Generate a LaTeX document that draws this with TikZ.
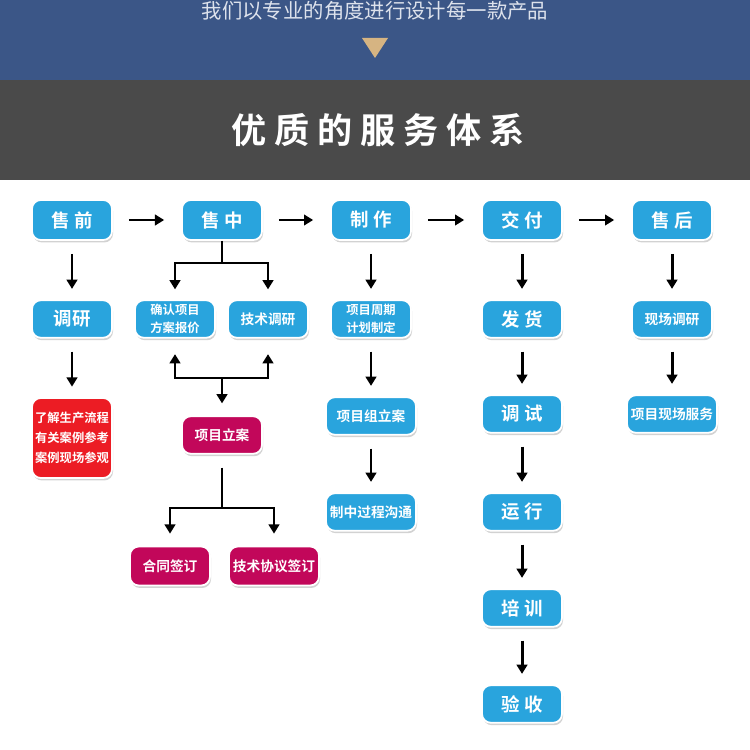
\documentclass[tikz,border=0pt]{standalone}
\usepackage{fontspec}
\newfontfamily\cjk{Noto Sans CJK SC}[BoldFont={Noto Sans CJK SC Bold}]
\usetikzlibrary{arrows.meta,shadows}
\definecolor{bandblue}{HTML}{3B5687}
\definecolor{bandgray}{HTML}{4A4A4A}
\definecolor{toptext}{HTML}{DDE2EC}
\definecolor{tanmark}{HTML}{D6B482}
\definecolor{boxblue}{HTML}{29A4DD}
\definecolor{boxred}{HTML}{EC1C24}
\definecolor{boxpink}{HTML}{C2075A}
\tikzset{
  box/.style={draw=white, line width=1pt, rounded corners=5pt, text=white,
    inner sep=0pt, minimum width=1.6cm, minimum height=0.75cm, align=center,
    drop shadow={opacity=0.35, shadow xshift=0.6pt, shadow yshift=-1.4pt}},
  bl/.style={box, fill=boxblue},
  pk/.style={box, fill=boxpink},
  rd/.style={box, fill=boxred},
  big/.style={font=\cjk\bfseries\fontsize{10.5}{12}\selectfont},
  mid/.style={font=\cjk\bfseries\fontsize{7.8}{10}\selectfont},
  sml/.style={font=\cjk\bfseries\fontsize{7}{10}\selectfont},
  wide/.style={minimum width=1.8cm},
  link/.style={line width=1.7pt},
  arr/.style={link, -{Triangle[width=6pt,length=5.2pt]}},
  hop/.style={shorten <=0.32cm, shorten >=0.34cm},
  dn/.style={shorten <=0.26cm, shorten >=0.21cm}
}
\begin{document}
\begin{tikzpicture}[x=0.02cm, y=-0.02cm]
  \useasboundingbox (0,0) rectangle (750,750);
  \fill[white] (0,0) rectangle (750,750);
  \fill[bandblue] (0,0) rectangle (750,80);
  \fill[bandgray] (0,80) rectangle (750,180);
  \fill[tanmark] (362,38) -- (388,38) -- (375,58) -- cycle;
  \node[text=toptext, font=\cjk\fontsize{11.6}{12}\selectfont] (slogan) at (375,11)
    {我们以专业的角度进行设计每一款产品};
  \node[text=white, font=\cjk\bfseries\fontsize{20}{22}\selectfont\addfontfeature{LetterSpace=22}]
    (title) at (378,130) {优质的服务体系};
  % main row
  \path
    (72,220) node[bl, big, minimum height=0.8cm] (sq) {售 前}
    (222,220) node[bl, big, minimum height=0.8cm] (sz) {售 中}
    (371,220) node[bl, big, minimum height=0.8cm] (zz) {制 作}
    (522,220) node[bl, big, minimum height=0.8cm] (jf) {交 付}
    (672,220) node[bl, big, minimum height=0.8cm] (sh) {售 后};
  % second row
  \path
    (72,319) node[bl, big] (dy) {调研}
    (175,319) node[bl, sml] (qr) {确认项目\\方案报价}
    (268,319) node[bl, mid] (js) {技术调研}
    (371,319) node[bl, sml] (zq) {项目周期\\计划制定}
    (522,319) node[bl, big] (fh) {发 货}
    (672,319) node[bl, mid] (xd) {现场调研};
  % lower rows
  \path
    (72,438) node[rd, font=\cjk\bfseries\fontsize{7}{11.3}\selectfont, minimum height=1.6cm] (lj)
      {了解生产流程\\有关案例参考\\案例现场参观}
    (222,435) node[pk, mid] (xl) {项目立案}
    (170,566) node[pk, mid, minimum height=0.78cm] (ht) {合同签订}
    (274,566) node[pk, mid, wide, minimum height=0.78cm] (xy) {技术协议签订}
    (371,416) node[bl, mid, wide] (xz) {项目组立案}
    (371,512) node[bl, mid, wide] (gt) {制中过程沟通}
    (522,414) node[bl, big] (ts) {调 试}
    (522,512) node[bl, big] (yx) {运 行}
    (522,608) node[bl, big] (px) {培 训}
    (522,704) node[bl, big] (ys) {验 收}
    (672,414) node[bl, mid, wide] (fw) {项目现场服务};
  \coordinate (j1) at (222,263);
  \coordinate (j2) at (222,378);
  \coordinate (j3) at (222,508);
  \begin{scope}[arr]
    \draw[hop] (sq) to (sz);
    \draw[hop] (sz) to (zz);
    \draw[hop] (zz) to (jf);
    \draw[hop] (jf) to (sh);
    \draw[dn] (sq) to (dy);
    \draw[dn] (dy) to (lj);
    \draw[dn] (zz) to (zq);
    \draw[dn] (zq) to (xz);
    \draw[dn] (xz) to (gt);
    \draw[dn] (jf) to (fh);
    \draw[dn] (fh) to (ts);
    \draw[dn] (ts) to (yx);
    \draw[dn] (yx) to (px);
    \draw[dn] (px) to (ys);
    \draw[dn] (sh) to (xd);
    \draw[dn] (xd) to (fw);
    \draw[shorten >=0.2cm] (sz.south) -- (j1) -| (qr.north);
    \draw[shorten >=0.2cm] (j1) -| (js.north);
    \draw[shorten >=0.31cm] (j2) -| (qr.south);
    \draw[shorten >=0.31cm] (j2) -| (js.south);
    \draw[shorten >=0.24cm] (j2) -- (xl.north);
    \draw[shorten >=0.24cm] (j3) -| (ht.north);
    \draw[shorten >=0.24cm] (j3) -| (xy.north);
  \end{scope}
  \draw[link, shorten <=0.26cm] (xl.south) -- (j3);
\end{tikzpicture}
\end{document}
